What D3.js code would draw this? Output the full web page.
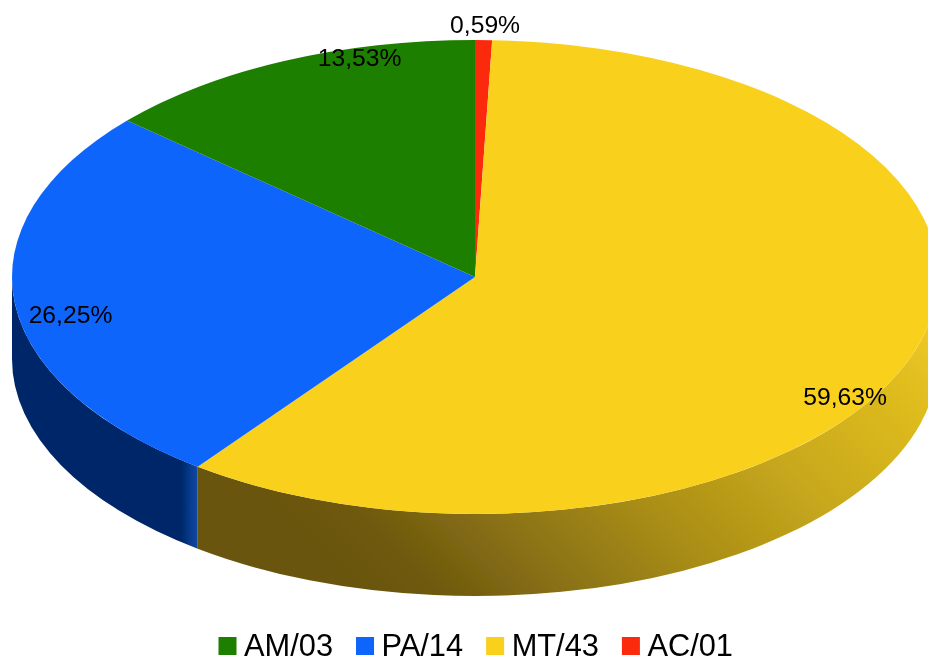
<!DOCTYPE html>
<html lang="en">
<head>
    <meta charset="UTF-8">
    <title>Pie</title>
    <script src="https://cdn.jsdelivr.net/npm/d3@7"></script>
    <style>
        html, body { margin: 0; padding: 0; background: #fff; overflow: hidden; }
        text { font-family: "Liberation Sans", Arial, sans-serif; fill: #000; }
    </style>
</head>
<body>
    <script>
        // values, legend order
        var categories = ["AM/03", "PA/14", "MT/43", "AC/01"];
        var values = [13.53, 26.25, 59.63, 0.59];
        var labels = ["13,53%", "26,25%", "59,63%", "0,59%"];

        var colors = ["#1f7f00", "#0f65fb", "#f9d01f", "#fb2a0a"];
        // label centre, relative to the point on the rim at the slice middle
        var labelOffsets = [[75.5, -3], [56, 13], [-66.5, 41], [1.5, -15]];

        //Width and height
        var w = 928;
        var h = 659;
        var cx = 475, cy = 277;
        var rx = 463, ry = 237;
        var depth = 82;
        var squash = ry / rx;

        var svg = d3.select("body")
            .append("svg")
            .attr("width", w)
            .attr("height", h)
            .style("display", "block");

        var defs = svg.append("defs");

        // the reference is a slightly soft upscaled image
        defs.append("filter")
            .attr("id", "soft")
            .attr("filterUnits", "userSpaceOnUse")
            .attr("x", 0).attr("y", 0)
            .attr("width", w).attr("height", h)
            .append("feGaussianBlur")
            .attr("stdDeviation", 0.7);

        // gradient ends given in page pixels, the transform undoes the squash of the pie group
        function wallGradient(id, x1, y1, x2, y2, stops) {
            var g = defs.append("linearGradient")
                .attr("id", id)
                .attr("gradientUnits", "userSpaceOnUse")
                .attr("gradientTransform", "scale(1," + (1 / squash) + ") translate(" + (-cx) + "," + (-cy) + ")")
                .attr("x1", x1).attr("y1", y1)
                .attr("x2", x2).attr("y2", y2);
            stops.forEach(function(s) {
                g.append("stop")
                    .attr("offset", s[0])
                    .attr("stop-color", s[1]);
            });
        }

        wallGradient("wall-blue", 12, 0, 198, 0, [[0, "#04286a"], [0.91, "#04286a"], [1, "#0a4aa6"]]);
        wallGradient("wall-yellow", 198, 500, 649, 49, [
            [0, "#69540e"], [0.07, "#69540e"], [0.17, "#6f5a10"], [0.31, "#8a7114"],
            [0.39, "#977e14"], [0.48, "#a88c16"], [0.7, "#c9a91c"], [0.93, "#e2bf20"], [1, "#efc924"]
        ]);

        // clockwise from the top, reverse of the legend
        var pie = d3.pie().sort(null).value(function(d) { return d.value; });
        var slices = pie(categories.map(function(c, i) {
            return { value: values[i], i: i };
        }).reverse());

        var arc = d3.arc().innerRadius(0).outerRadius(rx);

        var chart = svg.append("g").attr("filter", "url(#soft)");

        var pieG = chart.append("g")
            .attr("transform", "translate(" + cx + "," + cy + ") scale(1," + squash + ")");

        // side wall, only the front half of the rim shows
        function wallPath(d) {
            var a0 = Math.max(d.startAngle, Math.PI / 2) - Math.PI / 2;
            var a1 = Math.min(d.endAngle, 3 * Math.PI / 2) - Math.PI / 2;
            var dz = depth / squash;
            var p = d3.path();
            p.moveTo(rx * Math.cos(a0), rx * Math.sin(a0));
            p.arc(0, 0, rx, a0, a1);
            p.lineTo(rx * Math.cos(a1), rx * Math.sin(a1) + dz);
            p.arc(0, dz, rx, a1, a0, true);
            p.closePath();
            return p.toString();
        }

        pieG.selectAll("path.wall")
            .data(slices.filter(function(d) {
                return d.endAngle > Math.PI / 2 && d.startAngle < 3 * Math.PI / 2;
            }))
            .enter()
            .append("path")
            .attr("class", "wall")
            .attr("d", wallPath)
            .attr("fill", function(d) {
                return d.data.i === 1 ? "url(#wall-blue)" : "url(#wall-yellow)";
            });

        // top face
        pieG.selectAll("path.top")
            .data(slices)
            .enter()
            .append("path")
            .attr("class", "top")
            .attr("d", arc)
            .attr("fill", function(d) { return colors[d.data.i]; });

        // value labels
        chart.selectAll("text.label")
            .data(slices)
            .enter()
            .append("text")
            .attr("class", "label")
            .attr("text-anchor", "middle")
            .attr("font-size", "24.7px")
            .attr("x", function(d) {
                var m = (d.startAngle + d.endAngle) / 2;
                return cx + rx * Math.sin(m) + labelOffsets[d.data.i][0];
            })
            .attr("y", function(d) {
                var m = (d.startAngle + d.endAngle) / 2;
                return cy - ry * Math.cos(m) + labelOffsets[d.data.i][1] + 8;
            })
            .text(function(d) { return labels[d.data.i]; });

        // legend, laid out by measured text width
        var legend = chart.append("g");
        var lx = 218.5;
        categories.forEach(function(c, i) {
            legend.append("rect")
                .attr("x", lx).attr("y", 637)
                .attr("width", 18).attr("height", 18)
                .attr("fill", colors[i]);
            var t = legend.append("text")
                .attr("x", lx + 25.5).attr("y", 655.5)
                .attr("font-size", "30.8px")
                .text(c);
            lx += 25.5 + t.node().getComputedTextLength() + 23;
        });
    </script>
</body>
</html>
